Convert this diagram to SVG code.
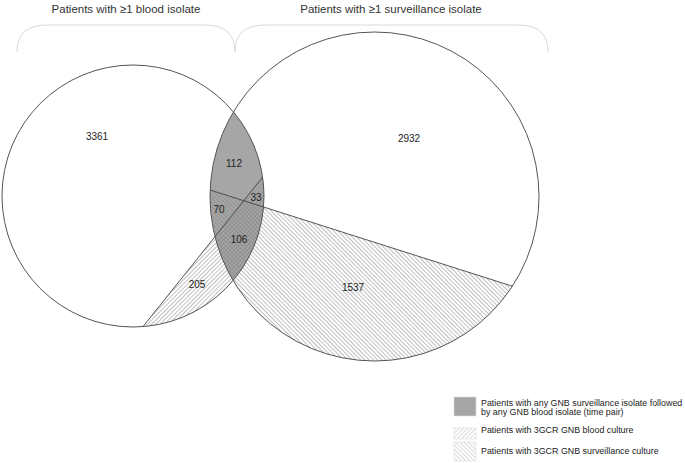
<svg xmlns="http://www.w3.org/2000/svg" width="685" height="463" viewBox="0 0 685 463">
<style>
  text { font-family: "Liberation Sans", Arial, sans-serif; fill: #222; }
  .title { font-size: 11.5px; text-anchor: middle; fill: #333; }
  .num { font-size: 10px; text-anchor: middle; }
  .leg { font-size: 8.9px; }
  .outline { fill: none; stroke: #555; stroke-width: 1; }
  .chord { stroke: #444; stroke-width: 0.9; fill: none; }
  .brace { fill: none; stroke: #d9d9d9; stroke-width: 1; }
</style>
<defs>
  <pattern id="hatchFwd" patternUnits="userSpaceOnUse" width="3" height="3" patternTransform="rotate(45)">
    <line x1="0" y1="0" x2="0" y2="3" stroke="#808080" stroke-width="1"/>
  </pattern>
  <pattern id="hatchBack" patternUnits="userSpaceOnUse" width="3" height="3" patternTransform="rotate(-45)">
    <line x1="0" y1="0" x2="0" y2="3" stroke="#808080" stroke-width="1"/>
  </pattern>
  <pattern id="legFwd" patternUnits="userSpaceOnUse" width="3" height="3" patternTransform="rotate(45)">
    <line x1="0" y1="0" x2="0" y2="3" stroke="#b5b5b5" stroke-width="1"/>
  </pattern>
  <pattern id="legBack" patternUnits="userSpaceOnUse" width="3" height="3" patternTransform="rotate(-45)">
    <line x1="0" y1="0" x2="0" y2="3" stroke="#b5b5b5" stroke-width="1"/>
  </pattern>
  <clipPath id="clipLeft"><circle cx="133" cy="196" r="131"/></clipPath>
</defs>

<g id="titles">
  <text class="title" x="126" y="13">Patients with ≥1 blood isolate</text>
  <text class="title" x="391" y="13">Patients with ≥1 surveillance isolate</text>
  <path class="brace" d="M17 52 Q17 25 47 25 L205 25 Q235 25 235 52"/>
  <path class="brace" d="M235 52 Q235 25 265 25 L518 25 Q548 25 548 52"/>
</g>

<g id="blood-circle">
  <circle cx="133" cy="196" r="131" fill="#fff"/>
</g>
<g id="surveillance-circle">
  <circle cx="374.5" cy="196.5" r="164.5" fill="#fff"/>
</g>
<g id="time-pair-lens">
  <circle cx="374.5" cy="196.5" r="164.5" fill="#a6a6a6" clip-path="url(#clipLeft)"/>
</g>
<g id="blood-3gcr">
  <path d="M143 326.6 L262.6 177.1 A131 131 0 0 1 143 326.6 Z" fill="url(#hatchFwd)"/>
</g>
<g id="surveillance-3gcr">
  <path d="M210.13 190 L512.4 286.2 A164.5 164.5 0 0 1 210.13 190 Z" fill="url(#hatchBack)"/>
</g>
<g id="connectors">
  <line class="chord" x1="143" y1="326.6" x2="262.6" y2="177.1"/>
  <line class="chord" x1="210.13" y1="190" x2="512.4" y2="286.2"/>
  <circle class="outline" cx="133" cy="196" r="131"/>
  <circle class="outline" cx="374.5" cy="196.5" r="164.5"/>
</g>

<g id="labels">
  <text class="num" x="97" y="140">3361</text>
  <text class="num" x="409" y="142">2932</text>
  <text class="num" x="234" y="167">112</text>
  <text class="num" x="256" y="201">33</text>
  <text class="num" x="219" y="213">70</text>
  <text class="num" x="239" y="243">106</text>
  <text class="num" x="197" y="288">205</text>
  <text class="num" x="353" y="291">1537</text>
</g>

<g id="legend">
  <rect x="454" y="397" width="22" height="19" fill="#a6a6a6" stroke="#ddd" stroke-width="0.6"/>
  <rect x="454" y="428" width="22" height="11" fill="url(#legFwd)" stroke="#ddd" stroke-width="0.6"/>
  <rect x="454" y="442" width="22" height="19" fill="url(#legBack)" stroke="#ddd" stroke-width="0.6"/>
  <text class="leg" x="481" y="405.5">Patients with any GNB surveillance isolate followed</text>
  <text class="leg" x="481" y="414.5">by any GNB blood isolate (time pair)</text>
  <text class="leg" x="481" y="432.7">Patients with 3GCR GNB blood culture</text>
  <text class="leg" x="481" y="453.5">Patients with 3GCR GNB surveillance culture</text>
</g>
</svg>
